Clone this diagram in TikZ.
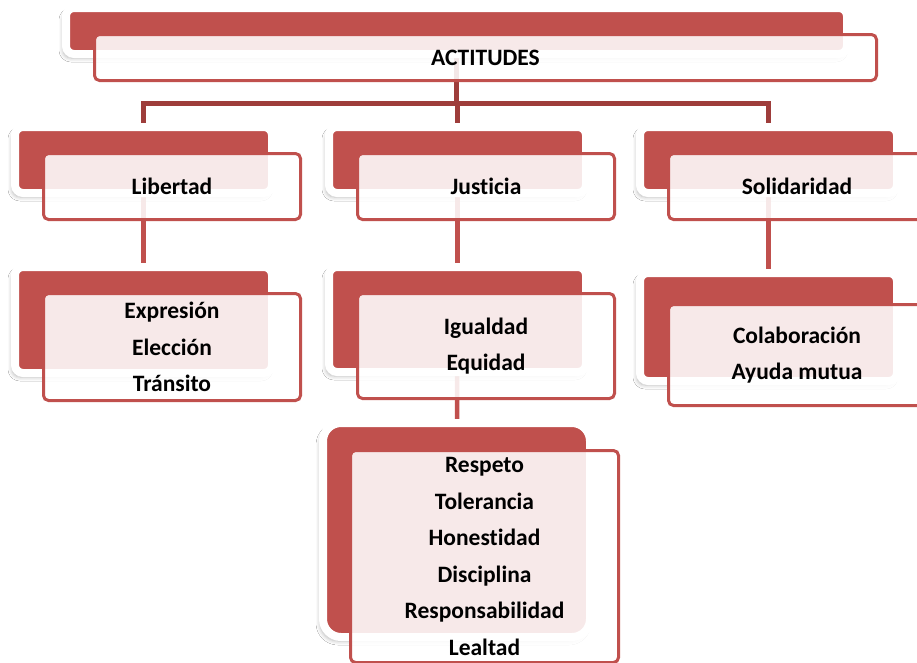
\documentclass[tikz,border=0pt]{standalone}
\usepackage{fontspec}
\setmainfont{Carlito}[Ligatures=NoCommon]
\usetikzlibrary{shadows.blur,backgrounds}
\definecolor{boxred}{HTML}{C0504D}
\definecolor{linkred}{HTML}{9E3D3B}
\tikzset{
  backbox/.style={draw=white, line width=8pt, fill=boxred, inner sep=0pt,
    outer sep=0pt, anchor=north west,
    blur shadow={shadow xshift=-3pt, shadow yshift=-4pt,
      shadow opacity=30, shadow blur radius=4pt}},
  frontbox/.style={draw=boxred, line width=3pt, fill=white, fill opacity=0.88,
    text opacity=1, inner sep=0pt, outer sep=0pt, anchor=north west,
    align=center, rounded corners=5pt,
    font=\bfseries\fontsize{23.5}{36.5}\selectfont},
  conn/.style={draw=boxred, line width=4.5pt},
  topconn/.style={draw=linkred, line width=4.5pt},
}
% red panel: name, x1, y1, x2, y2 of the red area, corner radius
\newcommand\backpanel[6]{%
  \node[backbox, rounded corners=#6, minimum width={#4-#2+8},
        minimum height={#5-#3+8}] (#1) at (#2-4,#3-4) {};}
% label card: name, outer x1, y1, x2, y2, text
\newcommand\labelcard[6]{%
  \node[frontbox, minimum width={#4-#2-3}, minimum height={#5-#3-3}]
        (#1) at (#2+1.5,#3+1.5) {#6};}
\begin{document}
\begin{tikzpicture}[x=1pt,y=-1pt]
\useasboundingbox (0,0) rectangle (917,662);
\clip (0,0) rectangle (917,662);

% red panels
\backpanel{actB}{70}{12}{843}{50}{8pt}
\backpanel{libB}{19}{131}{268}{189}{8pt}
\backpanel{jusB}{333}{131}{582}{189}{8pt}
\backpanel{solB}{644}{131}{893}{189}{8pt}
\backpanel{expB}{19}{271}{268}{369}{8pt}
\backpanel{iguB}{333}{271}{582}{368}{8pt}
\backpanel{colB}{644}{277}{893}{377}{8pt}
\backpanel{resB}{327}{427}{586}{633}{18pt}

% connectors, kept under the panels
\begin{scope}[on background layer]
  \fill[white] (0,0) rectangle (917,662);
  \coordinate (hub) at (actB.center |- 0,103.5);
  \draw[topconn] (actB.center) -- (hub);
  \draw[topconn] (libB.center) |- (hub) -| (solB.center);
  \draw[topconn] (jusB.center) -- (jusB.center |- hub);
  \draw[conn] (libB.center) -- (expB.center);
  \draw[conn] (jusB.center) -- (iguB.center);
  \draw[conn] (iguB.center) -- (resB.center);
  \draw[conn] (solB.center) -- (colB.center);
\end{scope}

% label cards
\labelcard{act}{93}{33}{878}{82}{ACTITUDES}
\labelcard{lib}{42}{152}{302}{221}{Libertad}
\labelcard{jus}{356}{152}{616}{221}{Justicia}
\labelcard{sol}{667}{152}{927}{221}{Solidaridad}
\labelcard{exp}{42}{292}{302}{402}{Expresión\\Elección\\Tránsito}
\labelcard{igu}{356}{292}{616}{400}{Igualdad\\Equidad}
\labelcard{col}{667}{303}{927}{407}{Colaboración\\Ayuda mutua}
\labelcard{res}{349}{449}{620}{664}{Respeto\\Tolerancia\\Honestidad\\Disciplina\\Responsabilidad\\Lealtad}
\end{tikzpicture}
\end{document}
